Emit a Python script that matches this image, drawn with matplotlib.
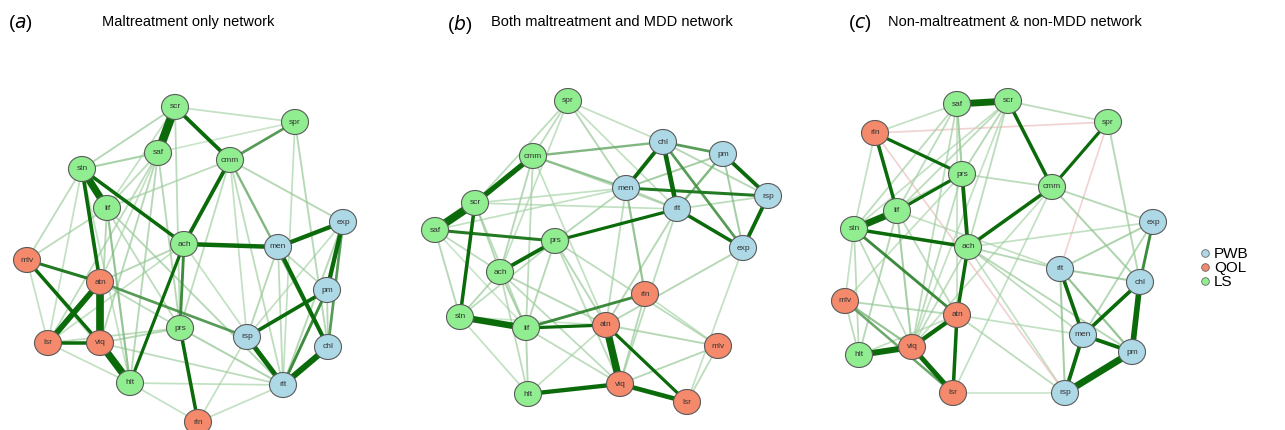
import matplotlib
matplotlib.use("Agg")
import matplotlib.pyplot as plt
from matplotlib.patches import Ellipse
from matplotlib.lines import Line2D
from matplotlib.colors import to_rgb

plt.rcParams["font.family"] = ["Liberation Sans", "DejaVu Sans"]

# Цвета групп узлов
group_colors = {"PWB": "#add8e6", "QOL": "#f4896b", "LS": "#90ee90"}
node_group = {
    "exp": "PWB", "men": "PWB", "pm": "PWB", "rsp": "PWB", "chl": "PWB", "rlt": "PWB",
    "mlv": "QOL", "atn": "QOL", "lsr": "QOL", "viq": "QOL", "rln": "QOL",
    "scr": "LS", "spr": "LS", "saf": "LS", "cmm": "LS", "stn": "LS", "lif": "LS",
    "ach": "LS", "prs": "LS", "hlt": "LS",
}

# (a) Maltreatment only network -- раскладка узлов
layout_a = {
    "scr": (175, 47), "spr": (295, 62), "saf": (158, 93), "cmm": (230, 100),
    "stn": (82, 109), "lif": (107, 148), "exp": (343, 162), "ach": (184, 184),
    "men": (278, 187), "mlv": (27, 200), "atn": (100, 222), "pm": (327, 230),
    "prs": (180, 268), "rsp": (247, 277), "lsr": (48, 283), "viq": (100, 283),
    "chl": (328, 287), "hlt": (130, 323), "rlt": (283, 325), "rln": (198, 362),
}
edges_a = [
    ("scr", "saf", 0.9), ("stn", "lif", 0.75), ("atn", "viq", 0.8), ("viq", "hlt", 0.75),
    ("atn", "lsr", 0.55), ("chl", "rlt", 0.6), ("rsp", "rlt", 0.45), ("ach", "men", 0.4),
    ("men", "exp", 0.38), ("exp", "pm", 0.38), ("men", "chl", 0.35), ("scr", "cmm", 0.32),
    ("cmm", "ach", 0.32), ("stn", "ach", 0.28), ("stn", "atn", 0.3), ("mlv", "atn", 0.22),
    ("mlv", "viq", 0.28), ("lsr", "viq", 0.28), ("pm", "rsp", 0.3), ("ach", "hlt", 0.24),
    ("prs", "rln", 0.28), ("ach", "prs", 0.2), ("atn", "rsp", 0.18), ("spr", "cmm", 0.18),
    ("pm", "rlt", 0.2), ("exp", "chl", 0.18), ("cmm", "chl", 0.14),
    ("scr", "stn", 0.08), ("scr", "spr", 0.06), ("scr", "prs", 0.07), ("scr", "lif", 0.06),
    ("saf", "stn", 0.08), ("saf", "lif", 0.07), ("saf", "lsr", 0.07), ("saf", "viq", 0.08),
    ("saf", "hlt", 0.08), ("saf", "prs", 0.08), ("saf", "atn", 0.06), ("stn", "mlv", 0.07),
    ("stn", "lsr", 0.06), ("stn", "prs", 0.07), ("stn", "hlt", 0.06), ("lif", "hlt", 0.12),
    ("lif", "mlv", 0.07), ("lif", "rlt", 0.08), ("cmm", "lif", 0.07), ("cmm", "exp", 0.08),
    ("cmm", "rlt", 0.07), ("cmm", "prs", 0.07), ("cmm", "rsp", 0.06), ("spr", "chl", 0.08),
    ("spr", "rlt", 0.06), ("spr", "stn", 0.05), ("ach", "atn", 0.08), ("ach", "lsr", 0.06),
    ("men", "rsp", 0.08), ("men", "pm", 0.07), ("men", "rlt", 0.07), ("exp", "rlt", 0.08),
    ("pm", "chl", 0.08), ("rsp", "rln", 0.06), ("rlt", "rln", 0.06), ("prs", "viq", 0.08),
    ("prs", "lsr", 0.07), ("prs", "rlt", 0.09), ("viq", "rlt", 0.07), ("hlt", "rln", 0.06),
    ("hlt", "rlt", 0.06), ("atn", "prs", 0.07), ("mlv", "lsr", 0.06), ("mlv", "hlt", 0.05),
    ("lsr", "hlt", 0.06), ("lif", "viq", 0.08), ("exp", "rsp", 0.06), ("ach", "rlt", 0.06),
]

# (b) Both maltreatment and MDD network
layout_b = {
    "spr": (158, 41), "chl": (253, 82), "pm": (313, 94), "cmm": (123, 96),
    "men": (216, 128), "rsp": (358, 136), "scr": (65, 143), "rlt": (267, 149),
    "saf": (25, 170), "prs": (145, 181), "exp": (333, 188), "ach": (90, 212),
    "rln": (235, 234), "stn": (50, 257), "lif": (116, 268), "atn": (196, 265),
    "mlv": (308, 286), "hlt": (118, 334), "viq": (210, 324), "lsr": (277, 342),
}
edges_b = [
    ("saf", "scr", 0.85), ("scr", "cmm", 0.5), ("stn", "lif", 0.65), ("atn", "viq", 0.75),
    ("viq", "lsr", 0.42), ("hlt", "viq", 0.38), ("chl", "rlt", 0.42), ("chl", "men", 0.32),
    ("pm", "rsp", 0.32), ("rsp", "exp", 0.32), ("rlt", "exp", 0.28), ("scr", "stn", 0.28),
    ("ach", "prs", 0.32), ("prs", "rlt", 0.24), ("saf", "prs", 0.22), ("lif", "atn", 0.24),
    ("lif", "rln", 0.2), ("atn", "lsr", 0.24), ("men", "rsp", 0.22), ("chl", "pm", 0.18),
    ("chl", "exp", 0.18), ("pm", "rlt", 0.14), ("cmm", "chl", 0.14), ("cmm", "men", 0.12),
    ("men", "rln", 0.12), ("pm", "exp", 0.1),
    ("spr", "cmm", 0.07), ("spr", "scr", 0.07), ("spr", "ach", 0.06), ("spr", "men", 0.08),
    ("spr", "rlt", 0.06), ("spr", "chl", 0.06), ("cmm", "rlt", 0.07), ("cmm", "ach", 0.08),
    ("cmm", "lif", 0.07), ("cmm", "atn", 0.06), ("scr", "men", 0.06), ("scr", "rlt", 0.06),
    ("scr", "ach", 0.08), ("scr", "lif", 0.07), ("saf", "stn", 0.08), ("saf", "ach", 0.07),
    ("saf", "men", 0.06), ("prs", "men", 0.08), ("prs", "atn", 0.08), ("prs", "mlv", 0.07),
    ("prs", "viq", 0.07), ("prs", "lif", 0.08), ("prs", "stn", 0.07), ("ach", "stn", 0.08),
    ("ach", "lif", 0.09), ("ach", "hlt", 0.07), ("ach", "atn", 0.08), ("ach", "viq", 0.07),
    ("stn", "hlt", 0.06), ("lif", "hlt", 0.08), ("men", "atn", 0.07), ("men", "rlt", 0.08),
    ("men", "pm", 0.1), ("rlt", "viq", 0.07), ("rlt", "atn", 0.08), ("rlt", "rsp", 0.07),
    ("chl", "rsp", 0.08), ("exp", "atn", 0.08), ("exp", "lsr", 0.06), ("rln", "viq", 0.08),
    ("rln", "mlv", 0.06), ("atn", "mlv", 0.08), ("mlv", "viq", 0.08), ("mlv", "lsr", 0.07),
    ("lif", "viq", 0.07), ("hlt", "atn", 0.06), ("stn", "atn", 0.05), ("saf", "lif", 0.05),
]

# (c) Non-maltreatment & non-MDD network
layout_c = {
    "saf": (137, 44), "scr": (188, 41), "rln": (55, 73), "spr": (288, 62),
    "prs": (142, 114), "cmm": (232, 127), "lif": (77, 151), "stn": (34, 169),
    "ach": (148, 187), "exp": (333, 162), "rlt": (240, 209), "chl": (320, 222),
    "mlv": (25, 241), "atn": (137, 255), "men": (263, 275), "viq": (92, 287),
    "hlt": (39, 295), "pm": (312, 292), "lsr": (133, 333), "rsp": (245, 333),
}
edges_c = [
    ("saf", "scr", 0.7), ("stn", "lif", 0.7), ("hlt", "viq", 0.6), ("viq", "lsr", 0.45),
    ("viq", "atn", 0.38), ("rsp", "pm", 0.7), ("pm", "chl", 0.55), ("men", "pm", 0.32),
    ("men", "chl", 0.3), ("rlt", "men", 0.3), ("men", "rsp", 0.32), ("scr", "cmm", 0.28),
    ("cmm", "spr", 0.24), ("cmm", "ach", 0.28), ("prs", "ach", 0.32), ("ach", "atn", 0.28),
    ("atn", "lsr", 0.28), ("rln", "lif", 0.28), ("rln", "prs", 0.24), ("prs", "lif", 0.24),
    ("stn", "ach", 0.28), ("stn", "atn", 0.2), ("exp", "chl", 0.2), ("mlv", "lsr", 0.16),
    ("mlv", "viq", 0.12), ("rlt", "rsp", 0.1), ("rlt", "pm", 0.12),
    ("saf", "rln", 0.06), ("saf", "prs", 0.08), ("saf", "lif", 0.07), ("saf", "stn", 0.07),
    ("saf", "ach", 0.07), ("saf", "atn", 0.06), ("saf", "viq", 0.07), ("scr", "prs", 0.08),
    ("scr", "lif", 0.07), ("scr", "stn", 0.06), ("scr", "ach", 0.07), ("scr", "spr", 0.07),
    ("scr", "viq", 0.06), ("rln", "stn", 0.06), ("prs", "cmm", 0.07), ("prs", "stn", 0.07),
    ("prs", "mlv", 0.06), ("prs", "viq", 0.07), ("cmm", "exp", 0.08), ("cmm", "chl", 0.09),
    ("cmm", "viq", 0.06), ("cmm", "lsr", 0.06), ("spr", "chl", 0.08), ("ach", "exp", 0.06),
    ("ach", "rlt", 0.08), ("ach", "men", 0.07), ("ach", "pm", 0.08), ("ach", "viq", 0.07),
    ("ach", "rsp", 0.06), ("stn", "hlt", 0.07), ("stn", "mlv", 0.06), ("stn", "viq", 0.07),
    ("lif", "viq", 0.1), ("lif", "hlt", 0.08), ("lif", "atn", 0.07), ("rlt", "exp", 0.09),
    ("rlt", "chl", 0.1), ("exp", "men", 0.08), ("mlv", "atn", 0.08), ("mlv", "hlt", 0.07),
    ("atn", "rsp", 0.07), ("atn", "hlt", 0.06), ("atn", "men", 0.06), ("lsr", "rsp", 0.05),
    ("rln", "spr", -0.06), ("rln", "rsp", -0.06), ("spr", "rlt", -0.05), ("lif", "rlt", 0.06),
]

panels = [
    ("a", "Maltreatment only network", layout_a, edges_a),
    ("b", "Both maltreatment and MDD network", layout_b, edges_b),
    ("c", "Non-maltreatment & non-MDD network", layout_c, edges_c),
]

W, H = 1285, 430
fig = plt.figure(figsize=(W / 100, H / 100), dpi=100)

# область каждой панели в пикселях: x0, y0, ширина, высота
boxes = [(0, 60, 400, 370), (410, 60, 390, 370), (820, 60, 370, 370)]
title_x = [(8, 102), (447, 491), (848, 888)]

light = to_rgb("#c4e6c4")
dark = to_rgb("#0b6b0b")


def edge_color(w):
    # от светло-зелёного (слабые связи) к тёмно-зелёному (сильные)
    t = min(1.0, w / 0.24) ** 1.3
    return tuple(l + (d - l) * t for l, d in zip(light, dark))


for (letter, title, layout, edges), (x0, y0, bw, bh), (lx, tx) in zip(panels, boxes, title_x):
    ax = fig.add_axes([x0 / W, 1 - (y0 + bh) / H, bw / W, bh / H])
    ax.set_xlim(0, bw)
    ax.set_ylim(bh, 0)
    ax.set_aspect("equal")
    ax.axis("off")

    # рёбра: слабые снизу, сильные сверху
    for a, b, w in sorted(edges, key=lambda e: abs(e[2])):
        xa, ya = layout[a]
        xb, yb = layout[b]
        aw = abs(w)
        if w > 0:
            col = edge_color(aw)
            alpha = min(1.0, 0.55 + aw * 2)
        else:
            col = "#ecc0c0"
            alpha = 0.7
        ax.plot([xa, xb], [ya, yb], color=col, alpha=alpha,
                lw=0.9 + aw * 5.8, solid_capstyle="butt", zorder=1)

    # узлы
    for name, (x, y) in layout.items():
        ax.add_patch(Ellipse((x, y), 27, 25, facecolor=group_colors[node_group[name]],
                             edgecolor="#5a5a5a", lw=0.8, zorder=3))
        ax.text(x, y, name, ha="center", va="center", fontsize=6,
                color="#333333", zorder=4)

    fig.text(lx / W, 1 - 24 / H, "(" + r"$\it{" + letter + "}$" + ")",
             fontsize=13.5, va="center", ha="left")
    fig.text(tx / W, 1 - 22 / H, title, fontsize=10.5, va="center", ha="left")

# легенда
handles = [Line2D([], [], marker="o", ls="", markersize=5.5, markerfacecolor=c,
                  markeredgecolor="#666666", markeredgewidth=0.6, label=g)
           for g, c in group_colors.items()]
fig.legend(handles=handles, loc="center left", bbox_to_anchor=(1197 / W, 1 - 268 / H),
           frameon=False, fontsize=11, handletextpad=0.1, labelspacing=0.0,
           handlelength=1.0, borderaxespad=0, borderpad=0)

fig.savefig("out.png", dpi=100)
